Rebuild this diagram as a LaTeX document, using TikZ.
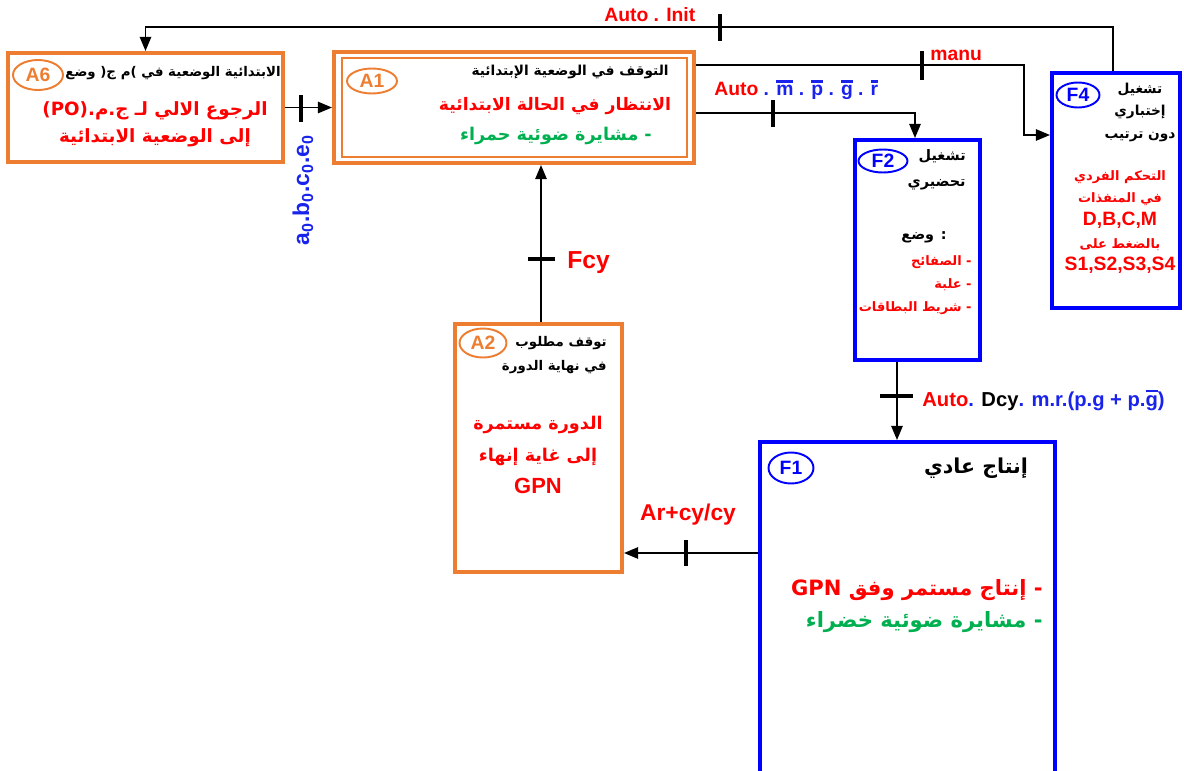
\documentclass[tikz,border=0pt]{standalone}
\usepackage{fontspec}
\setmainfont{Liberation Sans}
\newfontfamily\arabicfont[Script=Arabic]{DejaVu Sans}
\TeXXeTstate=1
\usetikzlibrary{arrows.meta,positioning,fit,shapes.geometric}
\definecolor{grafcetorange}{RGB}{237,125,49}
\definecolor{grafcetblue}{RGB}{0,0,255}
\definecolor{notered}{RGB}{255,0,0}
\definecolor{notegreen}{RGB}{0,176,80}
\definecolor{labelblue}{RGB}{25,35,235}
\newcommand{\ar}{\arabicfont\bfseries}
\newcommand{\ovl}[1]{\leavevmode\vbox{\hrule height 1.6pt\kern 1.6pt\hbox{#1}}}

\begin{document}
\begin{tikzpicture}[x=0.02cm, y=-0.02cm,
    arr/.style={-{Triangle[length=8pt,width=6.5pt]}, line width=0.8pt},
    tick/.style={line width=1.8pt},
    astate/.style={draw=grafcetorange, line width=2.3pt, inner sep=0pt},
    fstate/.style={draw=grafcetblue, line width=2.3pt, inner sep=0pt},
    acirc/.style={ellipse, draw=grafcetorange, line width=1.1pt, inner sep=0pt,
                  text=grafcetorange, font=\fontsize{11}{13}\selectfont\bfseries},
    fcirc/.style={ellipse, draw=grafcetblue, line width=1.1pt, inner sep=0pt,
                  text=grafcetblue, font=\fontsize{11}{13}\selectfont\bfseries},
    hdr/.style={inner sep=0pt, align=right, font=\fontsize{7.6}{13}\selectfont\ar},
    redtxt/.style={inner sep=0pt, align=center, text=notered},
    lbl/.style={inner sep=0pt, font=\fontsize{11}{13}\selectfont\bfseries}
  ]
  \useasboundingbox (0,0) rectangle (1184,771);

  % steps
  \node[astate, fit={(8,53) (283,162)}] (A6) {};
  \node[astate, fit={(334,52) (694,163)}] (A1) {};
  \node[draw=grafcetorange, line width=0.8pt, inner sep=0pt, fit={(342,58) (687,157)}] (A1in) {};
  \node[astate, fit={(455,324) (622,572)}] (A2) {};
  \node[fstate, fit={(855,140) (980,360)}] (F2) {};
  \node[fstate, fit={(1052,73) (1180,308)}] (F4) {};
  \node[fstate, fit={(760,442) (1055,800)}] (F1) {};

  \node[acirc, minimum width=1cm, minimum height=0.6cm] (A6c) at (38,75) {A6};
  \node[acirc, minimum width=1cm, minimum height=0.5cm] (A1c) at (372,81) {A1};
  \node[acirc, minimum width=0.94cm, minimum height=0.58cm] (A2c) at (483,343) {A2};
  \node[fcirc, minimum width=0.98cm, minimum height=0.46cm] (F2c) at (883,161) {F2};
  \node[fcirc, minimum width=0.86cm, minimum height=0.5cm] (F4c) at (1078,95) {F4};
  \node[fcirc, minimum width=0.9cm, minimum height=0.62cm] (F1c) at (791,468) {F1};

  % step texts
  \node[hdr, anchor=east] (A6h) at (281,73) {\beginR الابتدائية الوضعية في )م ج( وضع\endR};
  \node[redtxt, font=\fontsize{10.4}{15.3}\selectfont\ar] (A6t) at (155,124)
    {\beginR الرجوع الالي لـ ج.م.(PO)\endR\\\beginR إلى الوضعية الابتدائية\endR};
  \node[hdr, anchor=east, font=\fontsize{7.8}{13}\selectfont\ar] (A1h) at (669,72)
    {\beginR التوقف في الوضعية الإبتدائية\endR};
  \node[redtxt, font=\fontsize{9.8}{13}\selectfont\ar] (A1t) at (555,106)
    {\beginR الانتظار في الحالة الابتدائية\endR};
  \node[redtxt, text=notegreen, font=\fontsize{10}{13}\selectfont\ar] (A1g) at (556,136)
    {\beginR - مشايرة ضوئية حمراء\endR};
  \node[hdr, anchor=east, font=\fontsize{7.6}{13.6}\selectfont\ar] (A2h) at (607,355)
    {\beginR توقف مطلوب\endR\\\beginR في نهاية الدورة\endR};
  \node[redtxt, font=\fontsize{10}{18}\selectfont\ar] (A2t) at (538,455)
    {\beginR الدورة مستمرة\endR\\\beginR إلى غاية إنهاء\endR\\{\normalfont\bfseries\fontsize{12.5}{18}\selectfont GPN}};
  \node[hdr, anchor=east, font=\fontsize{8.2}{14.7}\selectfont\ar] (F2h) at (966,170)
    {\beginR تشغيل\endR\\\beginR تحضيري\endR};
  \node[hdr, font=\fontsize{8.2}{13}\selectfont\ar] (F2w) at (924,237) {\beginR : وضع\endR};
  \node[hdr, anchor=east, text=notered, font=\fontsize{7.4}{13}\selectfont\ar] (F2r) at (972,285)
    {\beginR - الصفائح\endR\\\beginR - علبة\endR\\\beginR - شريط البطاقات\endR};
  \node[hdr, align=center, font=\fontsize{7.8}{12.8}\selectfont\ar] (F4h) at (1140,112)
    {\beginR تشغيل\endR\\\beginR إختباري\endR\\\beginR دون ترتيب\endR};
  \node[redtxt, font=\fontsize{7.4}{12.9}\selectfont\ar] (F4r) at (1120,222)
    {\beginR التحكم الفردي\endR\\\beginR في المنفذات\endR\\{\normalfont\bfseries\fontsize{11}{12.9}\selectfont D,B,C,M}\\
     \beginR بالضغط على\endR\\{\normalfont\bfseries\fontsize{11}{12.9}\selectfont S1,S2,S3,S4}};
  \node[hdr, align=center, font=\fontsize{11.7}{15}\selectfont\ar] (F1h) at (976,468)
    {\beginR إنتاج عادي\endR};
  \node[redtxt, anchor=east, font=\fontsize{12}{15}\selectfont\ar] (F1r) at (1043,590)
    {\beginR - إنتاج مستمر وفق GPN\endR};
  \node[redtxt, anchor=east, text=notegreen, font=\fontsize{12}{15}\selectfont\ar] (F1g) at (1043,622)
    {\beginR - مشايرة ضوئية خضراء\endR};

  % transitions
  \draw[arr] (F4.north -| 1113,0) |- (A6.north |- 0,27) -- (A6.north);
  \draw[arr] (A1.east |- 0,65) -- ++(328,0) |- (F4.west |- 0,135);
  \draw[arr] (A1.east |- 0,113) -| (F2.north -| 915,0);
  \draw[arr] (F2.south -| 897,0) -- (F1.north -| 897,0);
  \draw[arr] (F1.west |- 0,553) -- (A2.east |- 0,553);
  \draw[arr] (A2.north -| 541,0) -- (A1.south -| 541,0);
  \draw[arr] (A6.east) -- (A1.west);

  \draw[tick] (720,14) -- (720,41);
  \draw[tick] (922,51) -- (922,80);
  \draw[tick] (773,100) -- (773,127);
  \draw[tick] (880,396) -- (913,396);
  \draw[tick] (686,540) -- (686,566);
  \draw[tick] (528,259) -- (555,259);
  \draw[tick] (301,95) -- (301,122);

  % receptivities
  \node[lbl, anchor=west, text=notered] (lInit) at (604,15) {Auto . Init};
  \node[lbl, anchor=west, text=notered] (lManu) at (930,55) {manu};
  \node[lbl, anchor=west] (lAuto) at (714,90)
    {\color{notered}Auto \color{labelblue}. \ovl{m} . \ovl{p} . \ovl{g} . \ovl{r}};
  \node[lbl, anchor=west, font=\fontsize{11.5}{13}\selectfont\bfseries] (lDcy) at (922,400)
    {\color{notered}Auto\color{labelblue}. \color{black}Dcy\color{labelblue}. m.r.(p.g + p.\ovl{g})};
  \node[lbl, text=notered, font=\fontsize{13}{15}\selectfont\bfseries] (lAr) at (688,515) {Ar+cy/cy};
  \node[lbl, anchor=west, text=notered, font=\fontsize{14}{16}\selectfont\bfseries] (lFcy) at (567,263) {Fcy};
  \node[lbl, rotate=90, text=labelblue, font=\fontsize{13}{15}\selectfont\bfseries] (lAbc) at (303,190)
    {a\textsubscript{0}.b\textsubscript{0}.c\textsubscript{0}.e\textsubscript{0}};
\end{tikzpicture}
\end{document}
